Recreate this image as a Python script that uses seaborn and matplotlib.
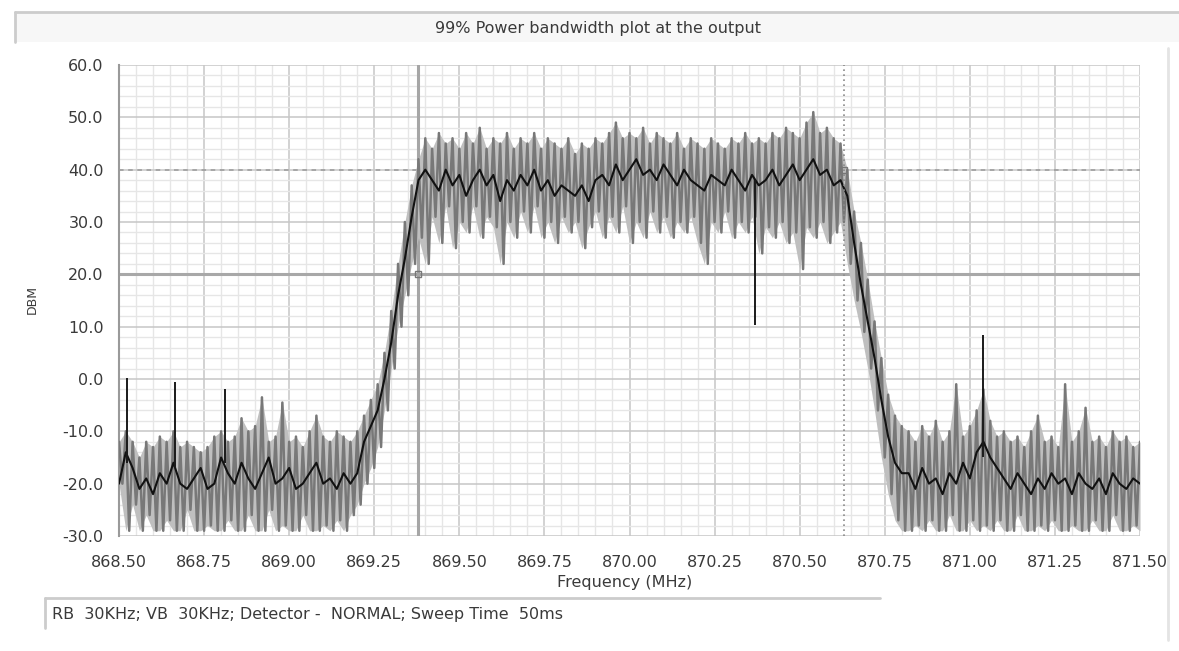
import numpy as np
import pandas as pd
import matplotlib
matplotlib.use("Agg")
import matplotlib.pyplot as plt
from matplotlib.ticker import MultipleLocator, FormatStrFormatter
from matplotlib.lines import Line2D
from matplotlib.patches import Rectangle
import seaborn as sns

# ---------------- data ----------------
freq_start = 868.50      # MHz, first sample
freq_step = 0.02         # MHz between samples
title = "99% Power bandwidth plot at the output"
footer = "RB  30KHz; VB  30KHz; Detector -  NORMAL; Sweep Time  50ms"
x_label = "Frequency (MHz)"
y_label = "DBM"
ref_level = 40.0          # dashed reference line
thr_level = 20.0          # threshold line
marker_left = 869.38      # 99% bandwidth start marker
marker_right = 870.63     # 99% bandwidth stop marker

# grey (peak-to-peak) trace: upper and lower extents per sample
grey_hi = [
    -12, -10, -12, -15, -12, -13, -11, -12, -10, -13, -12, -13, -14, -13, -11, -10, -12, -11,
    -7.5, -10, -9, -3.5, -12, -11, -4.5, -12, -11, -13, -10, -7, -11, -12, -10, -11, -12, -10,
    -7, -4, -1, 5, 13, 22, 30, 37, 42,
    46, 44, 47, 45, 46, 44, 47, 45, 48, 44, 46, 45, 47, 44, 46, 45, 47, 44, 46, 45, 44, 46,
    43, 45, 44, 46, 45, 47, 49, 46, 47, 46, 48, 45, 47, 46, 45, 47, 44, 46, 45, 44, 46, 45,
    44, 46, 45, 47, 45, 46, 45, 47, 46, 48, 47, 46, 49, 51, 47, 48, 46, 45,
    40, 32, 26, 19, 11, 4, -3, -7, -9,
    -10, -12, -9, -11, -8, -12, -10, -1, -11, -9, -6, -2, -8, -11, -10, -12, -11, -13, -10,
    -7, -12, -11, -13, -1, -12, -10, -5.5, -12, -11, -13, -10, -12, -11, -13, -12,
]
grey_lo = [
    -20, -29, -24, -29, -26, -29, -29, -27, -29, -29, -25, -29, -29, -28, -29, -29, -27, -29,
    -29, -26, -29, -29, -25, -29, -28, -29, -29, -26, -29, -29, -28, -29, -27, -29, -26, -24,
    -20, -17, -13, -6, 2, 10, 16, 22, 27,
    22, 31, 26, 33, 25, 30, 28, 33, 27, 31, 29, 22, 30, 27, 32, 28, 33, 27, 30, 26, 31, 28,
    30, 25, 29, 32, 27, 31, 28, 33, 26, 30, 27, 32, 28, 31, 27, 30, 28, 31, 26, 22, 30, 28,
    32, 27, 30, 28, 31, 24, 29, 27, 30, 26, 28, 21, 29, 27, 30, 26, 28, 30,
    22, 15, 9, 2, -6, -15, -22, -27, -29,
    -29, -28, -29, -27, -29, -29, -26, -29, -29, -27, -29, -28, -29, -27, -29, -29, -26, -29,
    -29, -28, -29, -27, -29, -29, -28, -29, -29, -27, -29, -29, -26, -29, -29, -28, -29,
]
# black (averaged) trace
black = [
    -20, -14, -17, -21, -19, -22, -18, -20, -16, -20, -21, -19, -17, -21, -20, -15, -18, -20,
    -16, -19, -21, -18, -15, -20, -19, -17, -21, -20, -18, -16, -20, -19, -21, -18, -20, -18,
    -12, -9, -6, 0, 7, 16, 23, 31, 38,
    40, 38, 36, 40, 37, 39, 35, 38, 40, 37, 39, 34, 38, 36, 39, 37, 40, 36, 38, 35, 37, 36,
    35, 37, 34, 38, 39, 37, 41, 38, 40, 42, 39, 40, 38, 41, 39, 37, 40, 38, 37, 36, 39, 38,
    37, 40, 38, 36, 39, 37, 38, 40, 37, 39, 41, 38, 40, 42, 39, 40, 37, 38,
    35, 26, 18, 11, 4, -4, -11, -16, -18,
    -18, -21, -17, -20, -19, -22, -18, -20, -16, -19, -14, -12, -15, -17, -19, -21, -18, -20,
    -22, -19, -21, -18, -20, -19, -22, -18, -20, -21, -19, -22, -18, -20, -21, -19, -20,
]
# narrow single-bin spikes on the black trace
spike_freq = [868.524, 868.665, 868.81, 870.37, 871.04]
spike_from = [-16, -17, -16, 38, -15]
spike_to = [0.2, -0.5, -2.0, 10.3, 8.4]

# ---------------- build frames ----------------
n = len(black)
freq = freq_start + freq_step * np.arange(n)
grey_x = np.ravel(np.column_stack([freq, freq + freq_step / 2]))
grey_y = np.ravel(np.column_stack([grey_hi, grey_lo]))
df_grey = pd.DataFrame({"freq": grey_x, "level": grey_y})
df_black = pd.DataFrame({"freq": freq, "level": black})

sns.set_style("white")
plt.rcParams["font.family"] = ["DejaVu Sans"]
txt = "#3a3a3a"
fs = 11.5

fig = plt.figure(figsize=(11.79, 6.51), dpi=100)
W, H = 1179, 651
ax = fig.add_axes([119 / W, 1 - 536 / H, (1140 - 119) / W, (536 - 65) / H])

ax.fill_between(freq, grey_lo, grey_hi, color="#bfbfbf", lw=0, zorder=2.5)
sns.lineplot(data=df_grey, x="freq", y="level", ax=ax, estimator=None,
             color="#787878", lw=1.8, zorder=3)
sns.lineplot(data=df_black, x="freq", y="level", ax=ax, estimator=None,
             color="#111111", lw=1.5, zorder=4)
ax.vlines(spike_freq, spike_from, spike_to, color="#1a1a1a", lw=1.4, zorder=4)

ax.set_xlim(868.5, 871.5)
ax.set_ylim(-30, 60)
ax.xaxis.set_major_locator(MultipleLocator(0.25))
ax.xaxis.set_minor_locator(MultipleLocator(0.05))
ax.yaxis.set_major_locator(MultipleLocator(10))
ax.yaxis.set_minor_locator(MultipleLocator(2))
ax.xaxis.set_major_formatter(FormatStrFormatter("%.2f"))
ax.yaxis.set_major_formatter(FormatStrFormatter("%.1f"))
ax.grid(which="major", color="#c6c6c6", lw=1.1, zorder=1)
ax.grid(which="minor", color="#e6e6e6", lw=1.0, zorder=0)
ax.set_axisbelow(True)

# special lines
ax.axhline(thr_level, color="#a8a8a8", lw=2.2, zorder=2)
ax.axhline(ref_level, color="#9a9a9a", lw=1.1, ls=(0, (3, 3)), zorder=2)
ax.axvline(marker_left, color="#a6a6a6", lw=2.2, zorder=2)
ax.axvline(marker_right, color="#8a8a8a", lw=1.2, ls=(0, (1, 2)), zorder=5)
ax.plot([marker_left], [thr_level], marker="s", ms=4, mfc="none", mec="#777777", zorder=6)
ax.plot([marker_right], [ref_level], marker="s", ms=4, mfc="none", mec="#777777", zorder=6)

for s in ["top", "right"]:
    ax.spines[s].set_visible(False)
ax.spines["bottom"].set_position(("outward", 8))
ax.spines["bottom"].set_visible(False)
ax.spines["left"].set_color("#9a9a9a")
ax.spines["left"].set_linewidth(1.5)

ax.tick_params(axis="x", which="major", direction="out", length=5, width=1,
               color="#555555", labelsize=fs, labelcolor=txt, pad=1)
ax.tick_params(axis="y", which="major", direction="out", length=8, width=1,
               color="#555555", labelsize=fs, labelcolor=txt, pad=3)
ax.tick_params(which="minor", length=0)

ax.set_xlabel("")
ax.set_ylabel("")
fig.text(625 / W, 1 - 583 / H, x_label, ha="center", va="center", fontsize=fs, color=txt)
fig.text(32 / W, 1 - 300 / H, y_label, rotation=90, ha="center", va="center",
         fontsize=9, color=txt)

# title box
fig.patches.append(Rectangle((15 / W, 1 - 42 / H), (W - 15) / W, 30 / H,
                             transform=fig.transFigure, facecolor="#f7f7f7",
                             edgecolor="none", zorder=0))
fig.lines.append(Line2D([15 / W, 1], [1 - 12 / H, 1 - 12 / H], transform=fig.transFigure,
                        color="#cccccc", lw=2))
fig.lines.append(Line2D([15 / W, 15 / W], [1 - 12 / H, 1 - 42 / H], transform=fig.transFigure,
                        color="#cccccc", lw=2))
fig.text(598 / W, 1 - 28 / H, title, ha="center", va="center", fontsize=fs, color=txt)

# footer box
fig.lines.append(Line2D([45 / W, 880 / W], [1 - 598 / H, 1 - 598 / H], transform=fig.transFigure,
                        color="#cccccc", lw=2))
fig.lines.append(Line2D([45 / W, 45 / W], [1 - 598 / H, 1 - 628 / H], transform=fig.transFigure,
                        color="#cccccc", lw=2))
fig.text(52 / W, 1 - 614 / H, footer, ha="left", va="center", fontsize=fs, color=txt)

# right panel edge
fig.lines.append(Line2D([1168 / W, 1168 / W], [1 - 48 / H, 1 - 640 / H], transform=fig.transFigure,
                        color="#e4e4e4", lw=2))

fig.savefig("out.png", dpi=100, facecolor="white")
